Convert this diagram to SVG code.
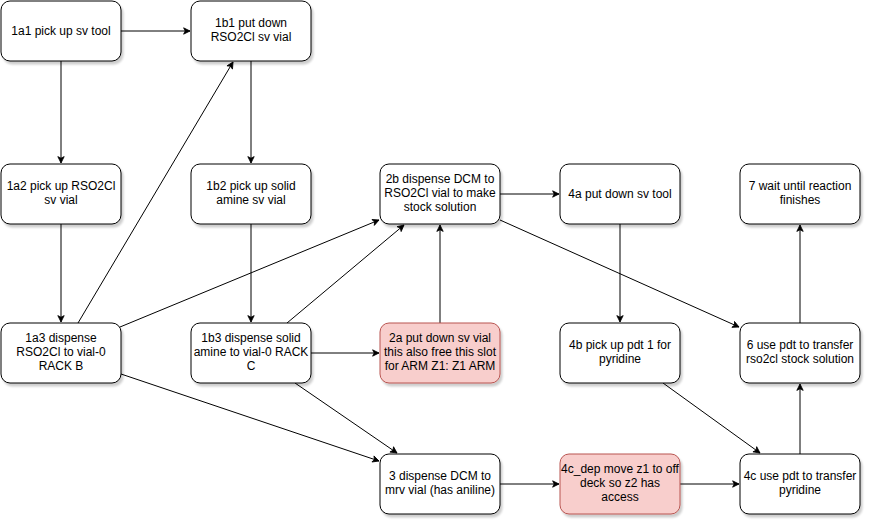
<svg xmlns="http://www.w3.org/2000/svg" width="872" height="525" viewBox="0 0 872 525">
<style>
.n{fill:#ffffff;stroke:#000000;stroke-width:1;filter:url(#sh)}
.r{fill:#f8cecc;stroke:#b85450;stroke-width:1;filter:url(#sh)}
.t{font-family:"Liberation Sans",Arial,sans-serif;font-size:12px;fill:#000000;text-anchor:middle}
.e{fill:none;stroke:#000000;stroke-width:1;marker-end:url(#a)}
</style>
<defs>
<filter id="sh" x="-10%" y="-10%" width="130%" height="140%">
<feGaussianBlur in="SourceAlpha" stdDeviation="1.2"/>
<feOffset dx="2" dy="3" result="o"/>
<feComponentTransfer><feFuncA type="linear" slope="0.2"/></feComponentTransfer>
<feMerge><feMergeNode/><feMergeNode in="SourceGraphic"/></feMerge>
</filter>
<marker id="a" viewBox="0 0 10 10" refX="9" refY="5" markerWidth="8" markerHeight="8" markerUnits="userSpaceOnUse" orient="auto">
<path d="M1,1 L9,5 L1,9 L3,5 z" fill="#000000" stroke="#000000" stroke-width="1"/>
</marker>
</defs>
<rect width="872" height="525" fill="#ffffff"/>
<g id="connectors">
<line class="e" x1="121" y1="31" x2="190" y2="31"/>
<line class="e" x1="61" y1="61" x2="61" y2="163"/>
<line class="e" x1="61" y1="224" x2="61" y2="322"/>
<line class="e" x1="78" y1="323" x2="233" y2="62"/>
<line class="e" x1="251" y1="61" x2="251" y2="163"/>
<line class="e" x1="251" y1="224" x2="251" y2="322"/>
<line class="e" x1="120" y1="327" x2="379" y2="220"/>
<line class="e" x1="287" y1="323" x2="404" y2="225"/>
<line class="e" x1="311" y1="353" x2="379" y2="353"/>
<line class="e" x1="440" y1="323" x2="440" y2="225"/>
<line class="e" x1="121" y1="374" x2="379" y2="461"/>
<line class="e" x1="295" y1="383" x2="397" y2="453"/>
<line class="e" x1="500" y1="194" x2="559" y2="194"/>
<line class="e" x1="500" y1="220" x2="739" y2="327"/>
<line class="e" x1="620" y1="224" x2="620" y2="322"/>
<line class="e" x1="663" y1="383" x2="760" y2="453"/>
<line class="e" x1="500" y1="484" x2="559" y2="484"/>
<line class="e" x1="680" y1="484" x2="739" y2="484"/>
<line class="e" x1="800" y1="454" x2="800" y2="384"/>
<line class="e" x1="800" y1="323" x2="800" y2="225"/>
</g>
<g id="n1a1"><rect class="n" x="1" y="1" width="120" height="60" rx="9"/><text class="t" x="61" y="35">1a1 pick up sv tool</text></g>
<g id="n1b1"><rect class="n" x="191" y="1" width="120" height="60" rx="9"/><text class="t" x="251" y="27">1b1 put down</text><text class="t" x="251" y="41">RSO2Cl sv vial</text></g>
<g id="n1a2"><rect class="n" x="1" y="164" width="120" height="60" rx="9"/><text class="t" x="61" y="190">1a2 pick up RSO2Cl</text><text class="t" x="61" y="204">sv vial</text></g>
<g id="n1b2"><rect class="n" x="191" y="164" width="120" height="60" rx="9"/><text class="t" x="251" y="190">1b2 pick up solid</text><text class="t" x="251" y="204">amine sv vial</text></g>
<g id="n2b"><rect class="n" x="380" y="164" width="120" height="60" rx="9"/><text class="t" x="440" y="183">2b dispense DCM to</text><text class="t" x="440" y="197">RSO2Cl vial to make</text><text class="t" x="440" y="211">stock solution</text></g>
<g id="n4a"><rect class="n" x="560" y="164" width="120" height="60" rx="9"/><text class="t" x="620" y="198">4a put down sv tool</text></g>
<g id="n7"><rect class="n" x="740" y="164" width="120" height="60" rx="9"/><text class="t" x="800" y="190">7 wait until reaction</text><text class="t" x="800" y="204">finishes</text></g>
<g id="n1a3"><rect class="n" x="1" y="323" width="120" height="60" rx="9"/><text class="t" x="61" y="342">1a3 dispense</text><text class="t" x="61" y="356">RSO2Cl to vial-0</text><text class="t" x="61" y="370">RACK B</text></g>
<g id="n1b3"><rect class="n" x="191" y="323" width="120" height="60" rx="9"/><text class="t" x="251" y="342">1b3 dispense solid</text><text class="t" x="251" y="356">amine to vial-0 RACK</text><text class="t" x="251" y="370">C</text></g>
<g id="n2a"><rect class="r" x="380" y="323" width="120" height="60" rx="9"/><text class="t" x="440" y="342">2a put down sv vial</text><text class="t" x="440" y="356">this also free this slot</text><text class="t" x="440" y="370">for ARM Z1: Z1 ARM</text></g>
<g id="n4b"><rect class="n" x="560" y="323" width="120" height="60" rx="9"/><text class="t" x="620" y="349">4b pick up pdt 1 for</text><text class="t" x="620" y="363">pyridine</text></g>
<g id="n6"><rect class="n" x="740" y="323" width="120" height="60" rx="9"/><text class="t" x="800" y="349">6 use pdt to transfer</text><text class="t" x="800" y="363">rso2cl stock solution</text></g>
<g id="n3"><rect class="n" x="380" y="454" width="120" height="60" rx="9"/><text class="t" x="440" y="480">3 dispense DCM to</text><text class="t" x="440" y="494">mrv vial (has aniline)</text></g>
<g id="n4c_dep"><rect class="r" x="560" y="454" width="120" height="60" rx="9"/><text class="t" x="620" y="473">4c_dep move z1 to off</text><text class="t" x="620" y="487">deck so z2 has</text><text class="t" x="620" y="501">access</text></g>
<g id="n4c"><rect class="n" x="740" y="454" width="120" height="60" rx="9"/><text class="t" x="800" y="480">4c use pdt to transfer</text><text class="t" x="800" y="494">pyridine</text></g>
</svg>
